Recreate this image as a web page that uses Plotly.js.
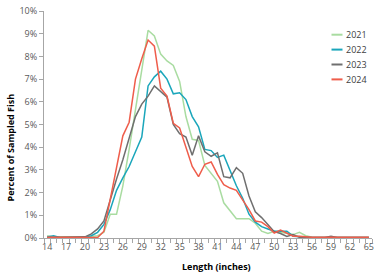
<!DOCTYPE html>
<html>
<head>
<meta charset="utf-8">
<script src="https://cdn.plot.ly/plotly-3.0.1.min.js"></script>
<style>html,body{margin:0;padding:0;background:#fff;}#chart{width:380px;height:275px;}</style>
</head>
<body>
<div id="chart"></div>
<script>
var lengths = [14,15,16,17,18,19,20,21,22,23,24,25,26,27,28,29,30,31,32,33,34,35,36,37,38,39,40,41,42,43,44,45,46,47,48,49,50,51,52,53,54,55,56,57,58,59,60,61,62,63,64,65];
var xTickLabels = [14,17,20,23,26,29,32,35,38,41,44,47,50,53,56,59,62,65];
var seriesNames = ["2021","2022","2023","2024"];
var y2021 = [0.10,0.05,0.05,0.05,0.08,0.05,0.03,0.05,0.10,0.25,1.05,1.05,2.3,3.9,5.6,7.3,9.15,8.9,8.1,7.8,7.6,6.9,5.35,4.35,4.3,3.2,2.85,2.5,1.55,1.2,0.85,0.85,0.85,0.65,0.3,0.2,0.3,0.25,0.2,0.15,0.25,0.1,0.03,0.02,0.02,0.02,0.02,0.02,0.02,0.02,0.02,0.02];
var y2022 = [0.05,0.1,0.02,0.02,0.03,0.0,0.05,0.1,0.25,0.6,1.25,2.1,2.65,3.15,3.8,4.45,6.7,7.1,7.35,7.0,6.35,6.4,6.1,5.35,4.9,3.9,3.85,3.55,3.65,2.95,2.3,1.75,1.05,0.7,0.5,0.4,0.3,0.3,0.3,0.08,0.05,0.03,0.02,0.02,0.02,0.02,0.02,0.02,0.02,0.02,0.02,0.02];
var y2023 = [0.02,0.02,0.02,0.02,0.02,0.02,0.05,0.18,0.4,0.75,1.7,2.6,3.45,4.35,5.35,5.9,6.25,6.7,6.45,6.2,5.0,4.6,4.45,3.65,4.5,3.8,3.6,3.75,2.7,2.65,3.1,2.85,1.85,1.15,0.9,0.6,0.28,0.2,0.07,0.15,0.03,0.02,0.02,0.02,0.02,0.08,0.02,0.02,0.02,0.02,0.02,0.02];
var y2024 = [0.03,0.03,0.03,0.05,0.05,0.05,0.05,0.05,0.02,0.3,1.7,3.1,4.5,5.1,7.0,7.9,8.72,8.45,6.6,6.25,5.05,4.85,4.0,3.15,2.7,3.25,3.35,2.8,2.35,2.2,2.1,1.7,1.25,0.75,0.7,0.5,0.22,0.35,0.2,0.08,0.08,0.05,0.03,0.03,0.03,0.03,0.03,0.03,0.03,0.03,0.03,0.03];
var seriesValues = [y2021, y2022, y2023, y2024];
var seriesColors = ["#a9dca1","#1aa6bb","#6f6f6f","#ef5d4b"];

var W = 380, H = 275, M = {l:44, r:8, t:11, b:37};
var PW = W - M.l - M.r, PH = H - M.t - M.b;
function pxX(px){ return (px - M.l) / PW; }
function pxY(py){ return (H - M.b - py) / PH; }

var FONT = "Open Sans, Noto Sans, sans-serif";
var traces = seriesNames.map(function(n, i){
  return {x: lengths, y: seriesValues[i], type: "scatter", mode: "lines", name: n,
    line: {color: seriesColors[i], width: 1.5}, showlegend: false, hoverinfo: "skip"};
});

var shapes = [], annotations = [];
var legTop = 34.7, legStep = 14.9;
seriesNames.forEach(function(n, i){
  var yc = legTop + i * legStep;
  shapes.push({type: "line", xref: "paper", yref: "paper", x0: pxX(331.5), x1: pxX(342.5), y0: pxY(yc), y1: pxY(yc),
    line: {color: seriesColors[i], width: 2}});
  annotations.push({xref: "paper", yref: "paper", x: pxX(343.5), y: pxY(yc), xanchor: "left", yanchor: "middle",
    text: n, showarrow: false, font: {family: FONT, size: 9, color: "#404040"}});
});
annotations.push({xref: "paper", yref: "paper", x: pxX(9.5), y: pxY(148), textangle: -90, xanchor: "center", yanchor: "middle",
  text: "<b>Percent of Sampled Fish</b>", showarrow: false, font: {family: FONT, size: 9, color: "#000"}});
annotations.push({xref: "paper", yref: "paper", x: pxX(216), y: pxY(266.7), xanchor: "center", yanchor: "middle",
  text: "<b>Length (inches)</b>", showarrow: false, font: {family: FONT, size: 9, color: "#000"}});

var layout = {
  width: W, height: H, margin: M, paper_bgcolor: "#fff", plot_bgcolor: "#fff",
  font: {family: FONT, size: 9, color: "#595959"},
  xaxis: {range: [13.5, 65.5], tickmode: "array", tickvals: xTickLabels, ticktext: xTickLabels.map(String), ticks: "",
    color: "#595959", showline: true, linecolor: "#a6a6a6", linewidth: 1, showgrid: false, zeroline: false,
    tickfont: {family: FONT, size: 9, color: "#595959"},
    minor: {tickmode: "linear", tick0: 13.5, dtick: 1, ticks: "outside", ticklen: 4, tickcolor: "#a6a6a6", tickwidth: 1, showgrid: false}},
  yaxis: {range: [0, 10], tickmode: "linear", tick0: 0, dtick: 1, ticksuffix: "%", ticks: "outside", ticklen: 4,
    color: "#595959", tickcolor: "#a6a6a6", showline: true, linecolor: "#a6a6a6", linewidth: 1, showgrid: false, zeroline: false,
    tickfont: {family: FONT, size: 9, color: "#595959"}},
  shapes: shapes, annotations: annotations, showlegend: false
};
Plotly.newPlot("chart", traces, layout, {staticPlot: true, displayModeBar: false});
</script>
</body>
</html>
